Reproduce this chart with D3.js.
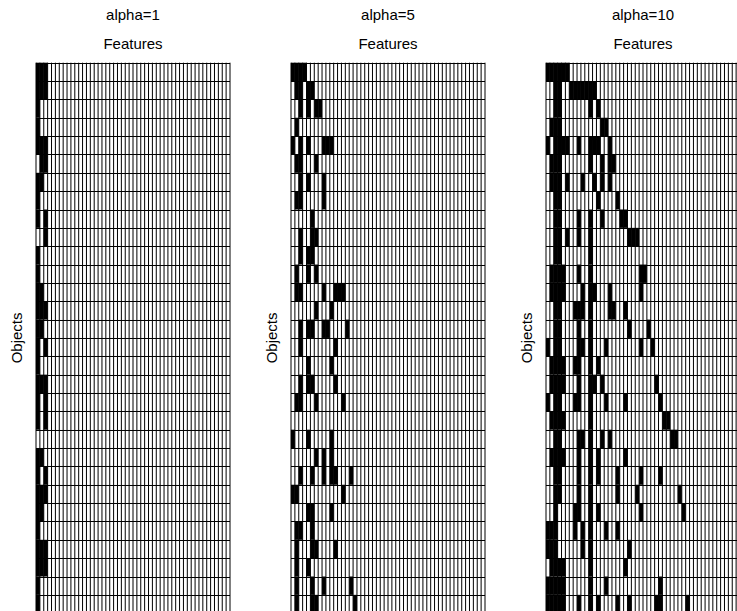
<!DOCTYPE html>
<html>
<head>
<meta charset="utf-8">
<script src="https://cdn.jsdelivr.net/npm/d3@7"></script>
<style>
  html, body { margin: 0; padding: 0; background: #fff; overflow: hidden; }
  svg { display: block; }
</style>
</head>
<body>
<div id="chart"></div>
<script>
// features owned by each object (1-based column numbers), one line per object
const alphas = [1, 5, 10];
const numObjects = 30;
const numFeatures = 50;

const alpha1Rows = [
  [1,2,3],[1,2,3],[1],[1],[1,2,3],[2,3],[1,2],[1],[1,3],[3],
  [1],[1],[1,2],[1,2,3],[1,2],[1,3],[1],[1,2,3],[1,3],[1,3],
  [],[1,2],[1,3],[1,2,3],[1,2],[1],[1,2,3],[1,2,3],[1],[1]
];

const alpha5Rows = [
  [1,2,3,4],[2,3,5,6],[3,5,7,8],[2],[1,3,5,9,10,11],[2,3,7],[3,5,9],[2,3,9],[6],[3,6,7],
  [3,5,6],[2,5,7],[2,3,9,12,13,14],[7,11],[3,5,6,9,10,15],[3,12],[5,11],[3,5,6,12],[2,3,7,14],[],
  [1,5,11],[7,9,11],[3,6,9,11,12,16],[1,2,14],[5,6,11],[2,3,6],[2,6,7,12],[2,5],[2,6,9,16],[2,6,7,17]
];

const alpha10Rows = [
  [1,2,3,4,5,6],[3,4,7,8,9,10,11,12,13],[3,4,12,14],[2,3,4,15,16],[1,3,4,5,6,9,12,13,14,17],
  [2,3,4,12,15,17,18],[2,3,4,6,10,13,15,17],[3,4,14,19],[3,4,9,12,15,20,21],[3,4,6,9,12,22,23,24],
  [3,4,12],[2,3,4,5,9,12,25,26],[2,3,4,5,10,12,13,17,25],[3,4,8,9,10,12,17,18,21],[3,4,9,12,22,27],
  [1,3,4,9,10,12,16,25,28],[2,3,4,5,8,9,12,14],[2,3,4,5,9,12,13,15,29],[1,3,4,8,9,12,16,21,30],[2,3,4,5,12,31,32],
  [3,4,9,10,12,15,17,33,34],[2,3,4,5,9,12,14,21],[3,4,9,12,14,19,25,30],[3,4,9,12,19,24,35],[3,8,9,12,14,25,36],
  [1,2,3,8,10,12,16,19],[1,2,3,10,12,22],[2,3,4,5,12,21],[1,2,3,4,5,12,16,30],[1,2,3,4,5,9,12,14,19,22,29,30,37]
];

const panels = [alpha1Rows, alpha5Rows, alpha10Rows];

const W = 737, H = 611;
const panelLeft = [36, 291, 546];
const plotTop = 62.7;
const pw = 194, ph = 550.5;

const svg = d3.select("#chart").append("svg")
  .attr("width", W)
  .attr("height", H)
  .style("font-family", "'Liberation Sans', Arial, sans-serif");

const x = d3.scaleLinear().domain([0, numFeatures]).range([0, pw]);
const y = d3.scaleLinear().domain([0, numObjects]).range([0, ph]);

panels.forEach((rows, p) => {
  const g = svg.append("g")
    .attr("transform", "translate(" + panelLeft[p] + "," + plotTop + ")");

  g.append("rect")
    .attr("width", pw)
    .attr("height", ph)
    .attr("fill", "#fff");

  // black cell for every feature an object has
  const cells = [];
  rows.forEach((feats, i) => feats.forEach(f => cells.push({ row: i, col: f - 1 })));
  g.selectAll("rect.cell")
    .data(cells)
    .enter()
    .append("rect")
    .attr("class", "cell")
    .attr("x", d => x(d.col))
    .attr("y", d => y(d.row))
    .attr("width", x(1) - x(0))
    .attr("height", y(1) - y(0))
    .attr("fill", "#000");

  // grid
  g.selectAll("line.v")
    .data(d3.range(numFeatures + 1))
    .enter()
    .append("line")
    .attr("class", "v")
    .attr("x1", d => x(d)).attr("x2", d => x(d))
    .attr("y1", 0).attr("y2", ph)
    .attr("stroke", "#000")
    .attr("stroke-width", 1);

  g.selectAll("line.h")
    .data(d3.range(numObjects + 1))
    .enter()
    .append("line")
    .attr("class", "h")
    .attr("x1", 0).attr("x2", pw)
    .attr("y1", d => Math.round(plotTop + y(d)) - plotTop + 0.5)
    .attr("y2", d => Math.round(plotTop + y(d)) - plotTop + 0.5)
    .attr("stroke", "#000")
    .attr("stroke-width", 1);

  // labels
  svg.append("text")
    .attr("x", panelLeft[p] + pw / 2)
    .attr("y", 20)
    .attr("text-anchor", "middle")
    .attr("font-size", 15)
    .text("alpha=" + alphas[p]);

  svg.append("text")
    .attr("x", panelLeft[p] + pw / 2)
    .attr("y", 49)
    .attr("text-anchor", "middle")
    .attr("font-size", 15)
    .text("Features");

  svg.append("text")
    .attr("transform", "translate(" + (panelLeft[p] - 14) + "," + (plotTop + ph / 2) + ") rotate(-90)")
    .attr("text-anchor", "middle")
    .attr("font-size", 15)
    .text("Objects");
});
</script>
</body>
</html>
